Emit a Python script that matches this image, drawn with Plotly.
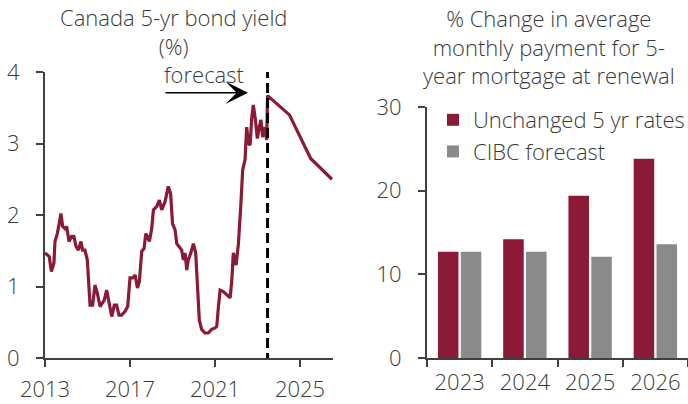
import plotly.graph_objects as go

# ---- Data ----
hist_years = [2013.0, 2013.2, 2013.3, 2013.42, 2013.47, 2013.58, 2013.67, 2013.75, 2013.83, 2013.94,
              2014.02, 2014.13, 2014.25, 2014.36, 2014.46, 2014.57, 2014.69, 2014.77, 2014.88, 2014.99,
              2015.12, 2015.24, 2015.35, 2015.46, 2015.59, 2015.7, 2015.79, 2015.9, 2016.01, 2016.14,
              2016.26, 2016.37, 2016.48, 2016.6, 2016.76, 2016.89, 2017.0, 2017.13, 2017.24, 2017.35,
              2017.44, 2017.55, 2017.66, 2017.74, 2017.82, 2017.91, 2018.02, 2018.1, 2018.26, 2018.38,
              2018.49, 2018.65, 2018.8, 2018.91, 2019.0, 2019.12, 2019.2, 2019.32, 2019.43, 2019.51,
              2019.59, 2019.67, 2019.74, 2019.86, 2019.98, 2020.09, 2020.19, 2020.26, 2020.37, 2020.53,
              2020.68, 2020.84, 2021.0, 2021.08, 2021.16, 2021.24, 2021.39, 2021.55, 2021.71, 2021.79,
              2021.86, 2021.99, 2022.1, 2022.21, 2022.3, 2022.41, 2022.49, 2022.57, 2022.65, 2022.73,
              2022.8, 2022.9, 2022.99, 2023.08, 2023.16, 2023.24, 2023.35, 2023.43, 2023.47]
hist_yield = [1.47, 1.42, 1.21, 1.33, 1.63, 1.74, 1.88, 2.02, 1.84, 1.81,
              1.84, 1.63, 1.70, 1.70, 1.56, 1.51, 1.63, 1.51, 1.51, 1.37,
              0.74, 0.74, 1.02, 0.91, 0.72, 0.77, 0.81, 0.95, 0.77, 0.58,
              0.74, 0.74, 0.60, 0.60, 0.65, 0.72, 1.12, 1.12, 1.16, 0.98,
              1.07, 1.49, 1.53, 1.74, 1.70, 1.63, 1.81, 2.07, 2.12, 2.21,
              2.07, 2.19, 2.40, 2.30, 1.88, 1.79, 1.60, 1.56, 1.51, 1.37,
              1.47, 1.23, 1.37, 1.47, 1.60, 1.47, 0.91, 0.53, 0.40, 0.35,
              0.35, 0.40, 0.42, 0.44, 0.72, 0.95, 0.93, 0.88, 0.84, 1.09,
              1.47, 1.30, 1.60, 2.12, 2.63, 2.77, 3.23, 3.00, 2.98, 3.37,
              3.54, 3.33, 3.07, 3.23, 3.33, 3.09, 3.23, 3.05, 3.47]
fc_years = [2023.47, 2024.5, 2025.5, 2026.5]
fc_yield = [3.67, 3.40, 2.79, 2.50]
forecast_start = 2023.47
year_ticks = [2013, 2017, 2021, 2025]

renewal_years = ["2023", "2024", "2025", "2026"]
unchanged_rates = [12.7, 14.2, 19.4, 23.8]
cibc_forecast = [12.7, 12.7, 12.1, 13.6]

RED = "#8a1a35"
GREY = "#8a8a8a"
TXT = "#3a3a3a"
AX = "#404040"
FONT = "Open Sans"
FS = 22
W, H = 688, 404

fnt = dict(family=FONT, size=FS, color=TXT, weight=300)

fig = go.Figure()
fig.add_trace(go.Scatter(x=hist_years + fc_years, y=hist_yield + fc_yield, mode="lines",
                         line=dict(color=RED, width=3.2), showlegend=False,
                         xaxis="x", yaxis="y"))
fig.add_trace(go.Scatter(x=[forecast_start, forecast_start], y=[-0.07, 4.0], mode="lines",
                         line=dict(color="black", width=3, dash="10px,5px"), showlegend=False,
                         xaxis="x", yaxis="y", cliponaxis=False))
fig.add_trace(go.Bar(x=renewal_years, y=unchanged_rates, name="Unchanged 5 yr rates",
                     marker=dict(color=RED, line_width=0), xaxis="x2", yaxis="y2"))
fig.add_trace(go.Bar(x=renewal_years, y=cibc_forecast, name="CIBC forecast",
                     marker=dict(color=GREY, line_width=0), xaxis="x2", yaxis="y2"))

common = dict(showgrid=False, zeroline=False, showline=True, linewidth=2, linecolor=AX,
              ticks="outside", ticklen=7, tickwidth=2, tickcolor=AX, automargin=False,
              tickfont=fnt)

fig.update_layout(
    width=W, height=H,
    margin=dict(l=0, r=0, t=0, b=0, autoexpand=False),
    paper_bgcolor="white", plot_bgcolor="white",
    font=fnt,
    hovermode=False,
    barmode="group", bargap=0.3, bargroupgap=0.1,
    xaxis=dict(domain=[45 / W, 333 / W], range=[2013, 2026.55], tickvals=year_ticks,
               ticklabelstandoff=4, **common),
    yaxis=dict(domain=[1 - 358 / H, 1 - 72 / H], range=[0, 4], dtick=1,
               ticklabelstandoff=12, **common),
    xaxis2=dict(domain=[427 / W, 1.0], type="category", range=[-0.5, 3.5],
                tickson="boundaries", ticklabelstandoff=4, anchor="y2", **common),
    yaxis2=dict(domain=[1 - 358 / H, 1 - 107 / H], range=[0, 30], dtick=10,
                ticklabelstandoff=12, anchor="x2", **common),
    legend=dict(x=433 / W, y=1 - 99 / H, xanchor="left", yanchor="top",
                bgcolor="rgba(0,0,0,0)", font=fnt,
                tracegroupgap=0, itemwidth=30),
    annotations=[
        dict(text="Canada 5-yr bond yield<br>(%)", x=173 / W, y=1 - 0 / H, xref="paper", yref="paper",
             xanchor="center", yanchor="top", showarrow=False, align="center", font=fnt),
        dict(text="% Change in average<br>monthly payment for 5-<br>year mortgage at renewal",
             x=548.5 / W, y=1 - 1 / H, xref="paper", yref="paper",
             xanchor="center", yanchor="top", showarrow=False, align="center", font=fnt),
        dict(text="forecast", x=204 / W, y=1 - 74 / H, xref="paper", yref="paper",
             xanchor="center", yanchor="middle", showarrow=False, font=fnt),
        dict(text="", x=2022.55, y=3.71, xref="x", yref="y", ax=-84, ay=0,
             showarrow=True, arrowhead=3, arrowsize=2.5, arrowwidth=1.5, arrowcolor="black"),
    ],
)

fig.write_html("out.html", config={"displayModeBar": False, "staticPlot": True},
               post_script="document.body.style.margin='0';document.body.style.overflow='hidden';")
